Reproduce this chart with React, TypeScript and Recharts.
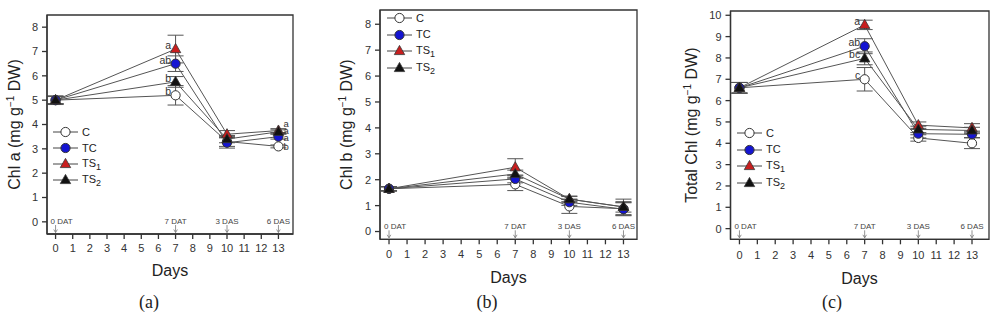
import React from "react";
import { LineChart, Line, XAxis, YAxis, ErrorBar, LabelList, Legend, ReferenceDot, ReferenceArea } from "recharts";

const FONT = "'Liberation Sans', Arial, Helvetica, sans-serif";
const INK = "#333";

const days = [0, 7, 10, 13];
const dayTicks = [0, 1, 2, 3, 4, 5, 6, 7, 8, 9, 10, 11, 12, 13];
const stages = ["0 DAT", "7 DAT", "3 DAS", "6 DAS"];
const seriesKeys = ["C", "TC", "TS1", "TS2"];

// (a) Chl a
const chlaC = [5.0, 5.2, 3.3, 3.1];
const chlaTC = [5.0, 6.5, 3.25, 3.5];
const chlaTS1 = [5.0, 7.1, 3.6, 3.75];
const chlaTS2 = [5.0, 5.75, 3.4, 3.7];
const chlaErrC = [0.18, 0.4, 0.2, 0.06];
const chlaErrTC = [0.15, 0.32, 0.22, 0.1];
const chlaErrTS1 = [0.15, 0.57, 0.15, 0.08];
const chlaErrTS2 = [0.15, 0.22, 0.15, 0.08];
const chlaLetC = ["", "b", "", "b"];
const chlaLetTC = ["", "ab", "", "a"];
const chlaLetTS1 = ["", "a", "", "a"];
const chlaLetTS2 = ["", "b", "", "a"];

// (b) Chl b
const chlbC = [1.65, 1.82, 0.97, 0.88];
const chlbTC = [1.65, 2.03, 1.13, 0.86];
const chlbTS1 = [1.65, 2.48, 1.25, 0.95];
const chlbTS2 = [1.65, 2.22, 1.25, 0.95];
const chlbErrC = [0.08, 0.24, 0.27, 0.25];
const chlbErrTC = [0.08, 0.15, 0.12, 0.25];
const chlbErrTS1 = [0.08, 0.33, 0.1, 0.2];
const chlbErrTS2 = [0.08, 0.15, 0.12, 0.3];
const noLetters = ["", "", "", ""];

// (c) Total Chl
const totC = [6.6, 7.0, 4.25, 4.0];
const totTC = [6.6, 8.55, 4.45, 4.42];
const totTS1 = [6.6, 9.55, 4.85, 4.72];
const totTS2 = [6.6, 7.98, 4.65, 4.6];
const totErrC = [0.25, 0.55, 0.15, 0.25];
const totErrTC = [0.25, 0.35, 0.2, 0.15];
const totErrTS1 = [0.25, 0.22, 0.15, 0.2];
const totErrTS2 = [0.25, 0.3, 0.15, 0.15];
const totLetC = ["", "c", "", ""];
const totLetTC = ["", "ab", "", ""];
const totLetTS1 = ["", "a", "", ""];
const totLetTS2 = ["", "bc", "", ""];

const styles: Record<string, { shape: string; fill: string; rightDy: number }> = {
  C: { shape: "circle", fill: "#ffffff", rightDy: 4 },
  TC: { shape: "circle", fill: "#1414d2", rightDy: 4.7 },
  TS1: { shape: "triangle", fill: "#c81e1e", rightDy: -3.3 },
  TS2: { shape: "triangle", fill: "#111111", rightDy: 2.5 },
};

function buildRows(vals: number[][], errs: number[][], lets: string[][]) {
  return days.map((d, i) => {
    const row: Record<string, number | string> = { day: d };
    seriesKeys.forEach((k, j) => {
      row[k] = vals[j][i];
      row[k + "_err"] = errs[j][i];
      row[k + "_lbl"] = lets[j][i];
    });
    return row;
  });
}

function Marker({ cx, cy, kind }: { cx?: number; cy?: number; kind: string }) {
  if (cx == null || cy == null) return null;
  const s = styles[kind];
  if (s.shape === "circle") {
    return <circle cx={cx} cy={cy} r={4.6} fill={s.fill} stroke={INK} strokeWidth={1} />;
  }
  return (
    <polygon
      points={`${cx},${cy - 5.6} ${cx + 5.2},${cy + 3.6} ${cx - 5.2},${cy + 3.6}`}
      fill={s.fill}
      stroke={INK}
      strokeWidth={0.8}
    />
  );
}

function LegendBox({ rowH }: { rowH: number }) {
  return (
    <div style={{ fontFamily: FONT, fontSize: 11, color: "#222" }}>
      {seriesKeys.map((k) => (
        <div key={k} style={{ display: "flex", alignItems: "center", height: rowH }}>
          <svg width={26} height={14} style={{ overflow: "visible" }}>
            <line x1={0} x2={25} y1={7} y2={7} stroke="#444" strokeWidth={1} />
            <Marker cx={12.5} cy={7} kind={k} />
          </svg>
          <span style={{ marginLeft: 3, lineHeight: "11px" }}>
            {k.startsWith("TS") ? (
              <>
                TS<span style={{ fontSize: 9, position: "relative", top: 3 }}>{k.slice(2)}</span>
              </>
            ) : (
              k
            )}
          </span>
        </div>
      ))}
    </div>
  );
}

interface PanelCfg {
  data: Record<string, number | string>[];
  left: number;
  width: number;
  height: number;
  margin: { top: number; right: number; bottom: number; left: number };
  yAxisWidth: number;
  xAxisHeight: number;
  xDomain: [number, number];
  yDomain: [number, number];
  yTicks: number[];
  title: string;
  titleX: number;
  legendLeft: number;
  legendTop: number;
  legendRow: number;
  xTickMargin: number;
}

function Panel(p: PanelCfg) {
  const plotBottom = p.height - p.margin.bottom - p.xAxisHeight;
  const yMid = (p.margin.top + plotBottom) / 2;
  const tickStyle = { fill: INK, fontSize: 11, fontFamily: FONT };
  return (
    <div style={{ position: "absolute", left: p.left, top: 0, width: p.width, height: p.height }}>
      <LineChart width={p.width} height={p.height} data={p.data} margin={p.margin}>
        <XAxis
          dataKey="day"
          type="number"
          domain={p.xDomain}
          ticks={dayTicks}
          interval={0}
          allowDataOverflow
          height={p.xAxisHeight}
          tick={tickStyle}
          tickSize={5}
          tickMargin={p.xTickMargin}
          stroke={INK}
          strokeWidth={1.3}
        />
        <YAxis
          type="number"
          domain={p.yDomain}
          ticks={p.yTicks}
          interval={0}
          allowDataOverflow
          width={p.yAxisWidth}
          tick={tickStyle}
          tickSize={5}
          tickMargin={4}
          stroke={INK}
          strokeWidth={1.3}
          label={() => (
            <text
              transform={`translate(${p.titleX},${yMid}) rotate(-90)`}
              textAnchor="middle"
              fontSize={16}
              fontFamily={FONT}
              fill="#222"
            >
              {p.title}
              <tspan dy={-6} fontSize={10}>−1</tspan>
              <tspan dy={6}> DW)</tspan>
            </text>
          )}
        />
        <ReferenceArea
          x1={p.xDomain[0]}
          x2={p.xDomain[1]}
          y1={p.yDomain[0]}
          y2={p.yDomain[1]}
          ifOverflow="visible"
          fill="none"
          fillOpacity={0}
          stroke={INK}
          strokeWidth={1.3}
        />
        {days.map((d, i) => (
          <ReferenceDot
            key={"st" + d}
            x={d}
            y={p.yDomain[0]}
            ifOverflow="visible"
            shape={(sp: any) => (
              <g>
                <text
                  x={i === 0 ? sp.cx - 5 : sp.cx}
                  y={sp.cy - 10.5}
                  textAnchor={i === 0 ? "start" : "middle"}
                  fontSize={8}
                  fontFamily={FONT}
                  fill="#444"
                >
                  {stages[i]}
                </text>
                <line x1={sp.cx} x2={sp.cx} y1={sp.cy - 9} y2={sp.cy - 1.5} stroke="#777" strokeWidth={0.8} />
                <polyline
                  points={`${sp.cx - 1.8},${sp.cy - 4.5} ${sp.cx},${sp.cy - 1.5} ${sp.cx + 1.8},${sp.cy - 4.5}`}
                  fill="none"
                  stroke="#777"
                  strokeWidth={0.8}
                />
              </g>
            )}
          />
        ))}
        <Legend
          layout="vertical"
          align="center"
          verticalAlign="middle"
          wrapperStyle={{ left: p.legendLeft, top: p.legendTop, width: "auto" }}
          content={() => <LegendBox rowH={p.legendRow} />}
        />
        {seriesKeys.map((k) => (
          <Line
            key={k}
            dataKey={k}
            stroke="#555"
            strokeWidth={1}
            isAnimationActive={false}
            activeDot={false}
            dot={(dp: any) => <Marker key={`${k}-${dp.index}`} cx={dp.cx} cy={dp.cy} kind={k} />}
          >
            <ErrorBar dataKey={k + "_err"} direction="y" width={8} stroke="#555" strokeWidth={1} isAnimationActive={false} />
            <LabelList
              dataKey={k + "_lbl"}
              content={(lp: any) => {
                const v = lp.value;
                if (!v) return null;
                const x = lp.x ?? lp.viewBox?.x;
                const y = lp.y ?? lp.viewBox?.y;
                const right = lp.index === days.length - 1;
                return (
                  <text
                    x={right ? x + 5 : x - 4.5}
                    y={right ? y + styles[k].rightDy : y}
                    textAnchor={right ? "start" : "end"}
                    fontSize={right ? 9.5 : 10.5}
                    fontFamily={FONT}
                    fill="#333"
                  >
                    {v}
                  </text>
                );
              }}
            />
          </Line>
        ))}
      </LineChart>
    </div>
  );
}

const dataA = buildRows(
  [chlaC, chlaTC, chlaTS1, chlaTS2],
  [chlaErrC, chlaErrTC, chlaErrTS1, chlaErrTS2],
  [chlaLetC, chlaLetTC, chlaLetTS1, chlaLetTS2]
);
const dataB = buildRows(
  [chlbC, chlbTC, chlbTS1, chlbTS2],
  [chlbErrC, chlbErrTC, chlbErrTS1, chlbErrTS2],
  [noLetters, noLetters, noLetters, noLetters]
);
const dataC = buildRows(
  [totC, totTC, totTS1, totTS2],
  [totErrC, totErrTC, totErrTS1, totErrTS2],
  [totLetC, totLetTC, totLetTS1, totLetTS2]
);

function Caption({ x, y, text, size, serif }: { x: number; y: number; text: string; size: number; serif?: boolean }) {
  return (
    <div
      style={{
        position: "absolute",
        left: x - 60,
        top: y - size / 2,
        width: 120,
        textAlign: "center",
        fontSize: size,
        lineHeight: `${size}px`,
        fontFamily: serif ? "'Liberation Serif', 'Times New Roman', serif" : FONT,
        color: "#222",
      }}
    >
      {text}
    </div>
  );
}

export default function App() {
  return (
    <div style={{ position: "absolute", left: 0, top: 0, width: 1000, height: 320, background: "#fff", overflow: "hidden" }}>
      <Panel
        data={dataA}
        left={0}
        width={300}
        height={262}
        margin={{ top: 15, right: 7, bottom: 0, left: 0 }}
        yAxisWidth={47}
        xAxisHeight={28}
        xDomain={[-0.5, 13.85]}
        yDomain={[-0.5, 8.5]}
        yTicks={[0, 1, 2, 3, 4, 5, 6, 7, 8]}
        title="Chl a (mg g"
        titleX={20}
        legendLeft={53}
        legendTop={124}
        legendRow={16}
        xTickMargin={5}
      />
      <Panel
        data={dataB}
        left={330}
        width={310}
        height={270}
        margin={{ top: 10, right: 3, bottom: 0, left: 0 }}
        yAxisWidth={50}
        xAxisHeight={30.7}
        xDomain={[-0.5, 13.75]}
        yDomain={[-0.3, 8.55]}
        yTicks={[0, 1, 2, 3, 4, 5, 6, 7, 8]}
        title="Chl b (mg g"
        titleX={22}
        legendLeft={57}
        legendTop={10}
        legendRow={16.6}
        xTickMargin={6}
      />
      <Panel
        data={dataC}
        left={665}
        width={330}
        height={270}
        margin={{ top: 11, right: 6, bottom: 0, left: 0 }}
        yAxisWidth={65.5}
        xAxisHeight={30.7}
        xDomain={[-0.5, 13.95]}
        yDomain={[-0.5, 10.2]}
        yTicks={[0, 1, 2, 3, 4, 5, 6, 7, 8, 9, 10]}
        title="Total Chl (mg g"
        titleX={32}
        legendLeft={72}
        legendTop={125}
        legendRow={16.6}
        xTickMargin={7}
      />
      <Caption x={170} y={271} text="Days" size={16} />
      <Caption x={508.5} y={278} text="Days" size={16} />
      <Caption x={859.5} y={279} text="Days" size={16} />
      <Caption x={149} y={302} text="(a)" size={18} serif />
      <Caption x={487} y={302} text="(b)" size={18} serif />
      <Caption x={832} y={302} text="(c)" size={18} serif />
    </div>
  );
}
